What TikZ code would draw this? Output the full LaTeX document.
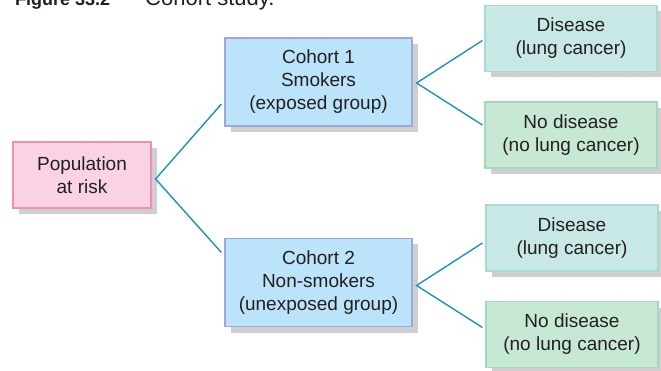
\documentclass[tikz,border=0pt]{standalone}
\usepackage{fontspec}
\setmainfont{Liberation Sans}
\usetikzlibrary{calc,positioning,shadows}
\definecolor{inktext}{HTML}{231F20}
\definecolor{popfill}{HTML}{F9D2E4}
\definecolor{popdraw}{HTML}{F28DB6}
\definecolor{cohfill}{HTML}{BBE3F9}
\definecolor{cohdraw}{HTML}{9FA6DA}
\definecolor{disfill}{HTML}{C7E8E5}
\definecolor{disdraw}{HTML}{A6DAD3}
\definecolor{nodfill}{HTML}{C8E8D6}
\definecolor{noddraw}{HTML}{A2D9BC}
\definecolor{shadowgray}{HTML}{CFCFD0}
\definecolor{wirecol}{HTML}{1B93B7}
\tikzset{
  box/.style    = {draw, line width=1.2pt, align=center, text=inktext, inner sep=0pt,
                   font=\fontsize{19}{23}\selectfont,
                   drop shadow={shadow xshift=6pt, shadow yshift=-6pt, fill=shadowgray, opacity=1}},
  popbox/.style = {box, fill=popfill, draw=popdraw, minimum width=138pt, minimum height=66pt},
  cohbox/.style = {box, fill=cohfill, draw=cohdraw, minimum width=187pt, minimum height=88pt},
  disbox/.style = {box, fill=disfill, draw=disdraw, minimum width=172pt, minimum height=66pt},
  nodbox/.style = {box, fill=nodfill, draw=noddraw, minimum width=172pt, minimum height=66pt},
  wire/.style   = {line width=1.4pt, wirecol},
}

\begin{document}
\begin{tikzpicture}[x=1pt,y=-1pt]
  \useasboundingbox (0,0) rectangle (661,371);
  \clip (0,0) rectangle (661,371);
  \node[anchor=base west, inner sep=0pt, text=inktext]
    (title) at (15,6) {\fontsize{18}{22}\selectfont\bfseries Figure 33.2\hspace{35pt}%
    \fontsize{22}{26}\selectfont\mdseries Cohort study.};

  \node[popbox] (pop) at (82,175) {Population\\at risk};
  \node[cohbox] (coh1) at (318.5,82) {Cohort 1\\Smokers\\(exposed group)};
  \node[cohbox] (coh2) at (318.5,282.5) {Cohort 2\\Non-smokers\\(unexposed group)};
  \node[disbox] (dis1) at (571,38.5) {Disease\\(lung cancer)};
  \node[nodbox] (nod1) at (571,135) {No disease\\(no lung cancer)};
  \node[disbox] (dis2) at (572,238) {Disease\\(lung cancer)};
  \node[nodbox] (nod2) at (572,334.5) {No disease\\(no lung cancer)};

  % forks
  \coordinate (fork0) at ($(pop.east)+(4,4)$);
  \coordinate (fork1) at ($(coh1.east)+(4,1)$);
  \coordinate (fork2) at ($(coh2.east)+(4,3)$);
  \draw[wire] ($(coh1.west)+(-3,22)$) -- (fork0) -- ($(coh2.west)+(-3,-30)$);
  \draw[wire] ($(dis1.west)+(-2,2)$) -- (fork1) -- ($(nod1.west)+(-2,-10)$);
  \draw[wire] ($(dis2.west)+(-3,5)$) -- (fork2) -- ($(nod2.west)+(-3,-7)$);
\end{tikzpicture}
\end{document}
